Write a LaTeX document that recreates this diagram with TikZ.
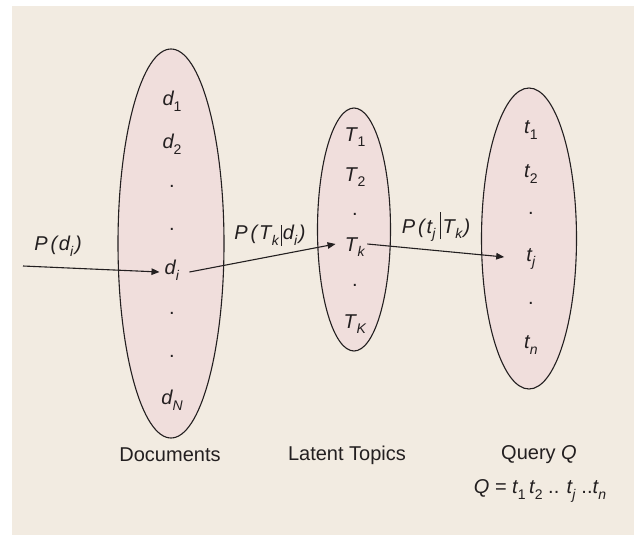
\documentclass[tikz,border=0pt]{standalone}
\usepackage{fontspec}
\setmainfont{Liberation Sans}
\usetikzlibrary{arrows.meta,shapes.geometric}
\definecolor{bg}{RGB}{242,235,225}
\definecolor{ellfill}{RGB}{240,222,220}
\definecolor{ink}{RGB}{35,31,32}
\newcommand\sbs[2]{\textit{#1}\kern-0.5pt\raisebox{-0.28em}{\fontsize{14}{14}\selectfont #2}}
\newcommand\condbar[1]{\rule[-0.3em]{0.8pt}{#1}}
\begin{document}
\begin{tikzpicture}[x=1pt,y=1pt,
  txt/.style={text=ink,font=\fontsize{20}{24}\selectfont,inner sep=0pt},
  blob/.style={ellipse,draw=ink,fill=ellfill,line width=1.1pt,inner sep=0pt},
  arr/.style={draw=ink,line width=1.1pt,-{Triangle[length=8pt,width=6.5pt]}}]
\useasboundingbox (0,0) rectangle (634,-535);
\fill[bg] (12,-6) rectangle (634,-535);
% ellipses
\node[blob,minimum width=106pt,minimum height=389pt] (docs) at (171,-243.5) {};
\node[blob,minimum width=73pt,minimum height=243pt] (topics) at (354,-229.5) {};
\node[blob,minimum width=95pt,minimum height=301pt] (query) at (529,-238.5) {};
% documents
\node[txt] (d1) at (172,-101) {\sbs{d}{1}};
\node[txt] (d2) at (172,-144) {\sbs{d}{2}};
\node[txt] (dd1) at (172,-186) {.};
\node[txt] (dd2) at (172,-229) {.};
\node[txt] (di) at (172,-270) {\sbs{d}{\textit{i}}};
\node[txt] (dd3) at (172,-313) {.};
\node[txt] (dd4) at (172,-356) {.};
\node[txt] (dN) at (172,-400) {\sbs{d}{\textit{N}}};
% topics
\node[txt] (T1) at (355,-137) {\sbs{T}{1}};
\node[txt] (T2) at (355,-177) {\sbs{T}{2}};
\node[txt] (Td1) at (355,-214) {.};
\node[txt] (Tk) at (355,-247) {\sbs{T}{\textit{k}}};
\node[txt] (Td2) at (355,-285) {.};
\node[txt] (TK) at (355,-324) {\sbs{T}{\textit{K}}};
% query
\node[txt] (t1) at (531,-130) {\sbs{t}{1}};
\node[txt] (t2) at (531,-174) {\sbs{t}{2}};
\node[txt] (td1) at (531,-213) {.};
\node[txt] (tj) at (531,-259) {\sbs{t}{\textit{j}}};
\node[txt] (td2) at (531,-303) {.};
\node[txt] (tn) at (531,-345) {\sbs{t}{\textit{n}}};
% arrows
\coordinate (src) at (23,-266);
\draw[arr] (src) -- ([xshift=-5pt,yshift=-2pt]di.west);
\draw[arr] ([xshift=10pt,yshift=-2pt]di.east) -- ([xshift=-9pt,yshift=3pt]Tk.west);
\draw[arr] ([xshift=2pt,yshift=3pt]Tk.east) -- ([xshift=-22pt,yshift=2pt]tj.west);
% arrow labels
\node[txt] (lpd) at (58,-246) {\textit{P\kern3pt(}\sbs{d}{\textit{i}}\kern1.5pt\textit{)}};
\node[txt] (lpt) at (270,-235) {\textit{P\kern3pt(}\sbs{T}{\textit{k}}\kern1pt\condbar{1.05em}\kern1.5pt\sbs{d}{\textit{i}}\kern1.5pt\textit{)}};
\node[txt] (lpq) at (436,-227) {\textit{P\kern3pt(}\sbs{t}{\textit{j}}\kern4pt\condbar{1.35em}\kern2pt\sbs{T}{\textit{k}}\kern0.5pt\textit{)}};
% captions
\node[txt] (cdoc) at (170,-455) {Documents};
\node[txt] (ctop) at (347,-455) {Latent Topics};
\node[txt] (cq) at (539,-455) {Query \textit{Q}};
\node[txt] (cqe) at (540,-491) {\textit{Q} = \sbs{t}{1}\,\sbs{t}{2} .. \sbs{t}{\textit{j}} ..\sbs{t}{\textit{n}}};
\end{tikzpicture}
\end{document}
